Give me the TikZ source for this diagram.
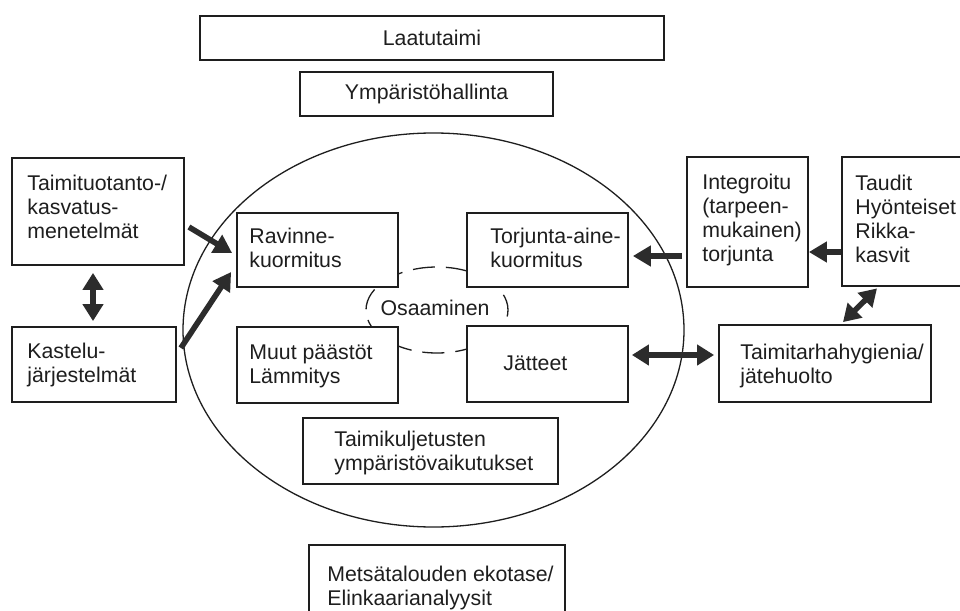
\documentclass[tikz,border=0pt]{standalone}
\usepackage{fontspec}
\setmainfont{Liberation Sans}
\usetikzlibrary{arrows.meta,shapes.geometric,calc}
\definecolor{ink}{HTML}{1E1E1E}
\definecolor{arr}{HTML}{2C2C2C}
\begin{document}
\begin{tikzpicture}[x=0.5pt,y=-0.5pt,
  box/.style={draw=ink,line width=0.9pt,fill=white,rectangle,inner sep=0pt},
  txt/.style={align=left,inner sep=0pt,text=ink,font=\fontsize{10.65}{12}\selectfont,anchor=west},
  ctxt/.style={align=center,inner sep=0pt,text=ink,font=\fontsize{10.65}{12}\selectfont},
  bigarrow/.style={draw=arr,line width=2.8pt,-{Triangle[length=9pt,width=10pt]}},
  bigdouble/.style={draw=arr,line width=2.8pt,{Triangle[length=8.5pt,width=10pt]}-{Triangle[length=8.5pt,width=10pt]}}
]
\clip (0,0) rectangle (960,611);
\fill[white] (0,0) rectangle (960,611);
% ellipses
\node[draw=ink,line width=0.65pt,ellipse,inner sep=0pt,minimum width=250.5pt,minimum height=197pt] (big) at (433.5,330) {};
\node[draw=ink,line width=0.65pt,ellipse,inner sep=0pt,minimum width=71pt,minimum height=43pt,dash pattern=on 11pt off 5.5pt,dash phase=3pt] (osa) at (437,310) {};
\node[ctxt] (osat) at (435,308) {Osaaminen};
% boxes
\node[box,minimum width=232pt,minimum height=22pt] (laat) at (432,38) {};
\node[box,minimum width=126.5pt,minimum height=22pt] (ymp) at (426.5,94) {};
\node[box,minimum width=86pt,minimum height=53.5pt] (tt) at (98,211.5) {};
\node[box,minimum width=82pt,minimum height=37.5pt] (kas) at (94,364.5) {};
\node[box,minimum width=80.5pt,minimum height=37pt] (rav) at (317.5,250) {};
\node[box,minimum width=80.5pt,minimum height=37pt] (tor) at (547.5,250) {};
\node[box,minimum width=80.5pt,minimum height=38pt] (muut) at (317.5,365) {};
\node[box,minimum width=80.5pt,minimum height=38pt] (jat) at (547.5,364) {};
\node[box,minimum width=127.5pt,minimum height=33pt] (tk) at (430.5,451) {};
\node[box,minimum width=128pt,minimum height=37.5pt] (met) at (437,582.5) {};
\node[box,minimum width=60.5pt,minimum height=65pt] (int) at (747.5,222) {};
\node[box,minimum width=68pt,minimum height=64.5pt] (tau) at (910,221.5) {};
\node[box,minimum width=106pt,minimum height=38.5pt] (hyg) at (825,363.5) {};
% texts
\node[ctxt] (laatt) at (laat) {Laatutaimi};
\node[ctxt] (ympt) at (ymp) {Ympäristöhallinta};
\node[txt] (ttt) at (27,207) {Taimituotanto-/\\kasvatus-\\menetelmät};
\node[txt] (kast) at (27,365) {Kastelu-\\järjestelmät};
\node[txt] (ravt) at (249,248) {Ravinne-\\kuormitus};
\node[txt] (tort) at (490,248) {Torjunta-aine-\\kuormitus};
\node[txt] (muutt) at (249,366) {Muut päästöt\\Lämmitys};
\node[txt] (jatt) at (503,363) {Jätteet};
\node[txt] (tkt) at (334,453) {Taimikuljetusten\\ympäristövaikutukset};
\node[txt] (mett) at (327,588) {Metsätalouden ekotase/\\Elinkaarianalyysit};
\node[txt] (intt) at (702,220) {Integroitu\\(tarpeen-\\mukainen)\\torjunta};
\node[txt] (taut) at (855,219) {Taudit\\Hyönteiset\\Rikka-\\kasvit};
\node[txt] (hygt) at (740,366) {Taimitarhahygienia/\\jätehuolto};
% arrows
\draw[bigarrow] ($(tt.east)+(4,15.5)$) -- ($(rav.west)+(-4,3)$);
\draw[bigarrow] ($(kas.east)+(4,-16.5)$) -- ($(rav.west)+(-5,22)$);
\draw[bigarrow] ($(int.west)+(-4,34)$) -- ($(tor.east)+(4,6)$);
\draw[bigarrow] ($(tau.west)+(0,30.5)$) -- ($(int.east)+(0,30)$);
\draw[bigdouble] ($(tau.south)+(-33,1.5)$) -- ($(hyg.north)+(18,-2)$);
\draw[bigdouble] ($(jat.east)+(3,-9)$) -- ($(hyg.west)+(-4,-8.5)$);
\draw[bigdouble] ($(tt.south)+(-5,7)$) -- ($(kas.north)+(-1,-5)$);
\end{tikzpicture}
\end{document}
